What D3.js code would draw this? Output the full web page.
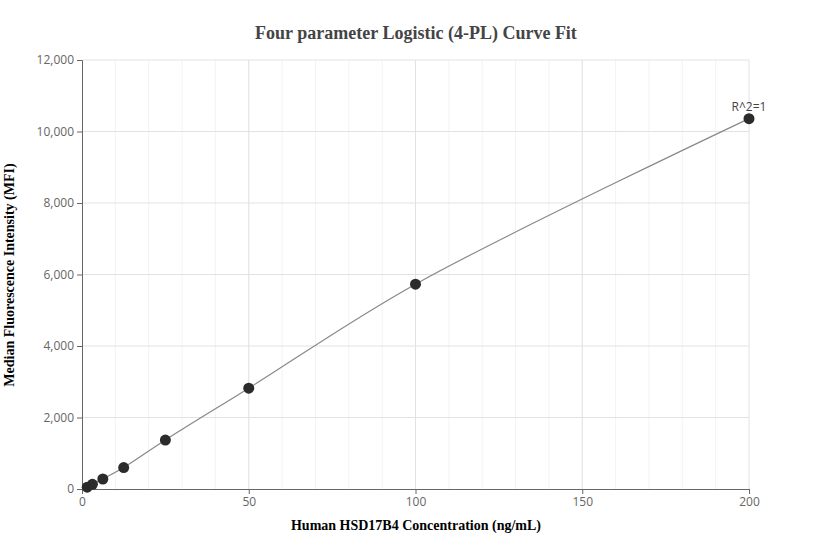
<!DOCTYPE html>
<html><head><meta charset="utf-8">
<script src="https://cdn.jsdelivr.net/npm/d3@7"></script>
<style>body{margin:0;background:#fff}</style>
</head><body>
<svg id="chart" width="832" height="560"></svg>
<script>
const concentrations = [1.5625, 3.125, 6.25, 12.5, 25, 50, 100, 200];
const mfi = [50, 130, 280, 600, 1370, 2820, 5730, 10360];
const xTicks = [0, 50, 100, 150, 200];
const yTicks = [0, 2000, 4000, 6000, 8000, 10000, 12000];

const svg = d3.select('#chart');
const x = d3.scaleLinear().domain([0, 200]).range([82, 749]);
const y = d3.scaleLinear().domain([0, 12000]).range([489, 60]);

// minor grid
svg.append('g').selectAll('line').data(d3.range(10, 200, 10))
    .join('line')
    .attr('x1', d => x(d)).attr('x2', d => x(d))
    .attr('y1', 60).attr('y2', 489)
    .attr('stroke', '#f3f3f3');

// major grid
svg.append('g').selectAll('line').data(xTicks.slice(1))
    .join('line')
    .attr('x1', d => x(d)).attr('x2', d => x(d))
    .attr('y1', 60).attr('y2', 489)
    .attr('stroke', '#e2e2e2');
svg.append('g').selectAll('line').data(yTicks.slice(1))
    .join('line')
    .attr('x1', 82).attr('x2', 749)
    .attr('y1', d => y(d)).attr('y2', d => y(d))
    .attr('stroke', '#e2e2e2');

const xAxis = svg.append('g').attr('transform', 'translate(0,489)')
    .call(d3.axisBottom(x).tickValues(xTicks).tickSize(5).tickFormat(d3.format('d')));
const yAxis = svg.append('g').attr('transform', 'translate(82,0)')
    .call(d3.axisLeft(y).tickValues(yTicks).tickSize(5).tickFormat(d3.format(',')));
[xAxis, yAxis].forEach(a => {
    a.selectAll('path,line').attr('stroke', '#666');
    a.selectAll('text').attr('fill', '#666').style('font-family', 'Open Sans, sans-serif').style('font-size', '12px');
});

svg.append('path')
    .datum(concentrations.map((c, i) => [c, mfi[i]]))
    .attr('d', d3.line().x(d => x(d[0])).y(d => y(d[1])).curve(d3.curveMonotoneX.constructor ? d3.curveCatmullRom.alpha(0.5) : d3.curveLinear))
    .attr('fill', 'none')
    .attr('stroke', '#888')
    .attr('stroke-width', 1.2);

svg.append('g').selectAll('circle').data(concentrations)
    .join('circle')
    .attr('cx', d => x(d))
    .attr('cy', (d, i) => y(mfi[i]))
    .attr('r', 5.5)
    .attr('fill', '#2b2b2b');

svg.append('text').attr('x', x(200)).attr('y', y(10360) - 8)
    .attr('text-anchor', 'middle').attr('fill', '#444')
    .style('font-family', 'Open Sans, sans-serif').style('font-size', '12px')
    .text('R^2=1');

svg.append('text').attr('x', 416).attr('y', 39).attr('text-anchor', 'middle')
    .attr('fill', '#444').style('font-family', 'Liberation Serif, serif')
    .style('font-size', '18px').style('font-weight', 'bold')
    .text('Four parameter Logistic (4-PL) Curve Fit');

svg.append('text').attr('x', 416).attr('y', 530).attr('text-anchor', 'middle')
    .attr('fill', '#000').style('font-family', 'Liberation Serif, serif')
    .style('font-size', '14px').style('font-weight', 'bold')
    .text('Human HSD17B4 Concentration (ng/mL)');

svg.append('text').attr('transform', 'translate(14,275) rotate(-90)')
    .attr('text-anchor', 'middle')
    .attr('fill', '#000').style('font-family', 'Liberation Serif, serif')
    .style('font-size', '14px').style('font-weight', 'bold')
    .text('Median Fluorescence Intensity (MFI)');
</script>
</body></html>
